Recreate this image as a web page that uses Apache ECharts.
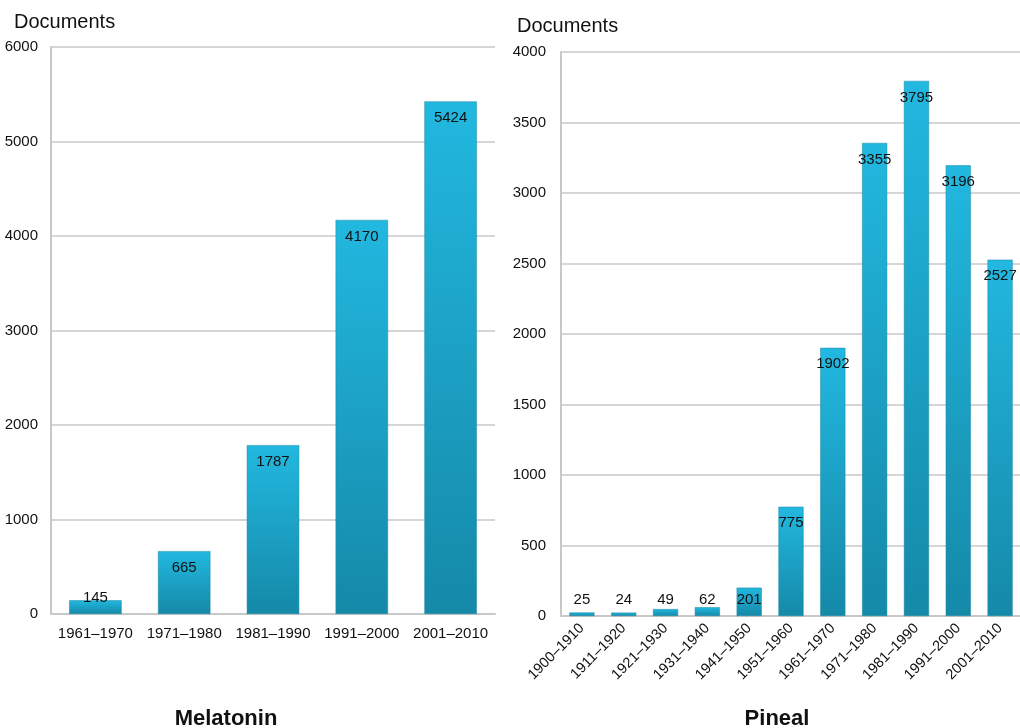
<!DOCTYPE html>
<html>
<head>
<meta charset="utf-8">
<script src="https://cdn.jsdelivr.net/npm/echarts@6/dist/echarts.min.js"></script>
<style>
  html, body { margin: 0; padding: 0; background: #fff; }
  #main { width: 1020px; height: 728px; }
</style>
</head>
<body>
<div id="main"></div>
<script>
// Melatonin (left)
var melCategories = ['1961\u20131970', '1971\u20131980', '1981\u20131990', '1991\u20132000', '2001\u20132010'];
var melValues = [145, 665, 1787, 4170, 5424];
// Pineal (right)
var pinCategories = ['1900\u20131910', '1911\u20131920', '1921\u20131930', '1931\u20131940', '1941\u20131950',
  '1951\u20131960', '1961\u20131970', '1971\u20131980', '1981\u20131990', '1991\u20132000', '2001\u20132010'];
var pinValues = [25, 24, 49, 62, 201, 775, 1902, 3355, 3795, 3196, 2527];

var font = 'Liberation Sans, Arial, sans-serif';

var barColor = new echarts.graphic.LinearGradient(0, 0, 0, 1, [
  { offset: 0, color: '#22b8e0' },
  { offset: 1, color: '#1589a8' }
]);

function barData (vals) {
  return vals.map(function (v) {
    if (v < 300) {
      return { value: v, label: { position: 'insideBottom', distance: 9 } };
    }
    return v;
  });
}

function plain (v) {
  return String(v);
}

var myChart = echarts.init(document.getElementById('main'));
var option = {
  animation: false,
  textStyle: { fontFamily: font },
  title: [
    { text: 'Documents', left: 9, top: 7, textStyle: { fontSize: 20, fontWeight: 'normal', color: '#111', fontFamily: font } },
    { text: 'Documents', left: 512, top: 11, textStyle: { fontSize: 20, fontWeight: 'normal', color: '#111', fontFamily: font } },
    { text: 'Melatonin', left: 221, top: 703, textAlign: 'center', textStyle: { fontSize: 22, fontWeight: 'bold', color: '#111', fontFamily: font } },
    { text: 'Pineal', left: 772, top: 703, textAlign: 'center', textStyle: { fontSize: 22, fontWeight: 'bold', color: '#111', fontFamily: font } }
  ],
  grid: [
    { left: 51, top: 47, width: 444, height: 567, outerBoundsMode: 'none' },
    { left: 561, top: 52, width: 460, height: 564, outerBoundsMode: 'none' }
  ],
  xAxis: [
    {
      gridIndex: 0, type: 'category', data: melCategories,
      axisLine: { lineStyle: { color: '#c8c8c8', width: 2 } },
      axisTick: { show: false },
      axisLabel: { color: '#111', fontSize: 15, margin: 12, interval: 0 }
    },
    {
      gridIndex: 1, type: 'category', data: pinCategories,
      axisLine: { lineStyle: { color: '#c8c8c8', width: 2 } },
      axisTick: { show: false },
      axisLabel: { color: '#111', fontSize: 14.5, rotate: 45, margin: 10, interval: 0 }
    }
  ],
  yAxis: [
    {
      gridIndex: 0, type: 'value', min: 0, max: 6000, interval: 1000,
      axisLine: { show: true, lineStyle: { color: '#c8c8c8', width: 2 } },
      splitLine: { lineStyle: { color: '#c8c8c8', width: 1.5 } },
      axisLabel: { color: '#111', fontSize: 15, margin: 13, formatter: plain }
    },
    {
      gridIndex: 1, type: 'value', min: 0, max: 4000, interval: 500,
      axisLine: { show: true, lineStyle: { color: '#c8c8c8', width: 2 } },
      splitLine: { lineStyle: { color: '#c8c8c8', width: 1.5 } },
      axisLabel: { color: '#111', fontSize: 15, margin: 15, formatter: plain }
    }
  ],
  series: [
    {
      type: 'bar', xAxisIndex: 0, yAxisIndex: 0, data: barData(melValues),
      barWidth: '59%',
      itemStyle: { color: barColor, borderColor: '#1a86a3', borderWidth: 0.5 },
      label: { show: true, position: 'insideTop', distance: 9, color: '#111', fontSize: 15 }
    },
    {
      type: 'bar', xAxisIndex: 1, yAxisIndex: 1, data: barData(pinValues),
      barWidth: '60%',
      itemStyle: { color: barColor, borderColor: '#1a86a3', borderWidth: 0.5 },
      label: { show: true, position: 'insideTop', distance: 9, color: '#111', fontSize: 15 }
    }
  ]
};
myChart.setOption(option);
</script>
</body>
</html>
